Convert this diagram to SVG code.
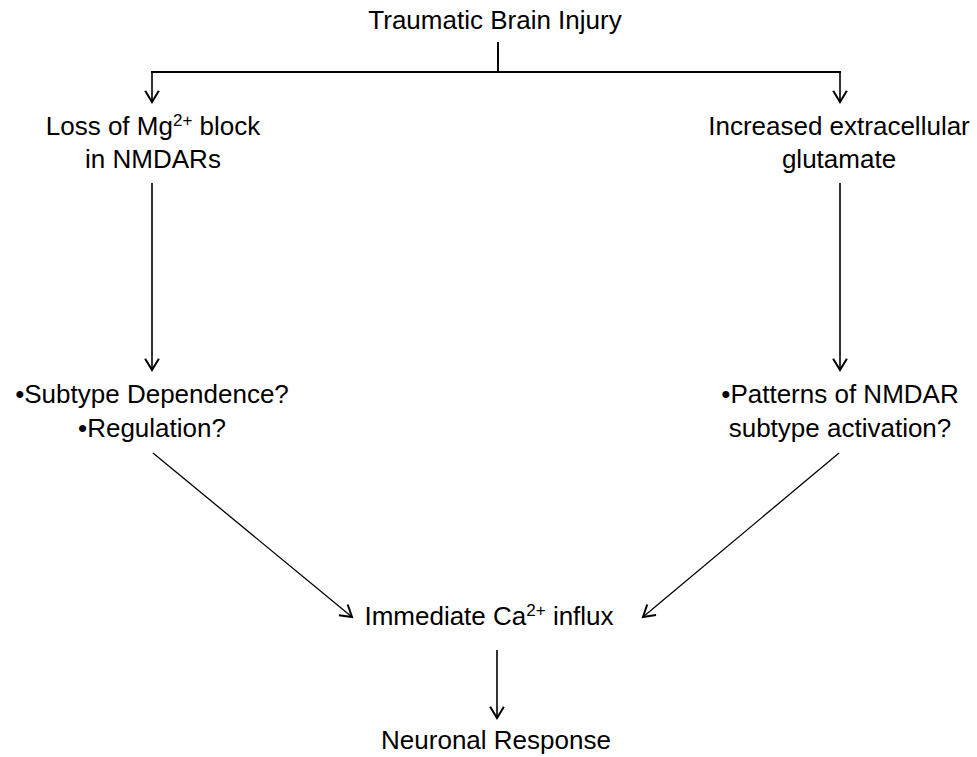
<svg xmlns="http://www.w3.org/2000/svg" width="977" height="757" viewBox="0 0 977 757">
<style>
  text { font-family: "Liberation Sans", Arial, sans-serif; font-size: 26px; fill: #000; text-anchor: middle; }
  .sup { font-size: 17px; }
  .ln { stroke: #000; fill: none; }
</style>
<defs>
  <marker id="arr" markerUnits="userSpaceOnUse" markerWidth="20" markerHeight="20" viewBox="-12 -8 14 16" refX="0" refY="0" orient="auto">
    <path d="M -9 -5.5 L 0 0 L -9 5.5" fill="none" stroke="#000" stroke-width="1.6"/>
  </marker>
</defs>
<rect width="977" height="757" fill="#fff"/>
<g id="connectors">
  <line class="ln" x1="498" y1="42" x2="498" y2="72" stroke-width="2"/>
  <line class="ln" x1="151" y1="72" x2="841" y2="72" stroke-width="2"/>
  <line class="ln" x1="152" y1="72" x2="152" y2="102" stroke-width="1.6" marker-end="url(#arr)"/>
  <line class="ln" x1="840" y1="72" x2="840" y2="102" stroke-width="1.6" marker-end="url(#arr)"/>
  <line class="ln" x1="152" y1="183" x2="152" y2="370" stroke-width="1.6" marker-end="url(#arr)"/>
  <line class="ln" x1="840" y1="183" x2="840" y2="370" stroke-width="1.6" marker-end="url(#arr)"/>
  <line class="ln" x1="153" y1="453" x2="352" y2="617" stroke-width="1.3" marker-end="url(#arr)"/>
  <line class="ln" x1="839" y1="453" x2="643" y2="617" stroke-width="1.3" marker-end="url(#arr)"/>
  <line class="ln" x1="497" y1="650" x2="497" y2="718" stroke-width="1.6" marker-end="url(#arr)"/>
</g>
<g id="tbi"><text x="495" y="29">Traumatic Brain Injury</text></g>
<g id="mg">
  <text x="153" y="135">Loss of Mg<tspan class="sup" dy="-9">2+</tspan><tspan dy="9"> block</tspan></text>
  <text x="153" y="168">in NMDARs</text>
</g>
<g id="glu">
  <text x="839" y="135">Increased extracellular</text>
  <text x="839" y="168">glutamate</text>
</g>
<g id="subtype">
  <text x="152" y="403">•Subtype Dependence?</text>
  <text x="152" y="437">•Regulation?</text>
</g>
<g id="patterns">
  <text x="840" y="403">•Patterns of NMDAR</text>
  <text x="840" y="437">subtype activation?</text>
</g>
<g id="ca">
  <text x="489" y="625">Immediate Ca<tspan class="sup" dy="-9">2+</tspan><tspan dy="9"> influx</tspan></text>
</g>
<g id="neuronal"><text x="496" y="749">Neuronal Response</text></g>
</svg>
